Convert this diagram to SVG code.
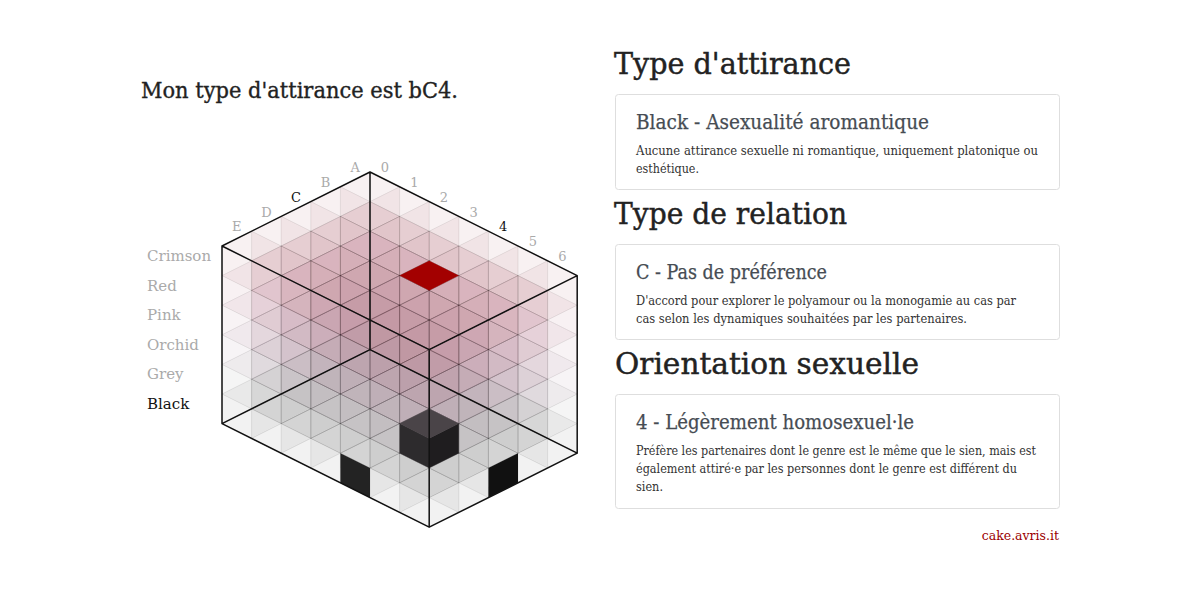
<svg xmlns="http://www.w3.org/2000/svg" width="1200" height="600" viewBox="0 0 1200 600">
<style>
.t{font-family:"DejaVu Serif","Liberation Serif",serif}
.h{font-size:30px;fill:#222;stroke:#222;stroke-width:0.45}
.ct{font-size:20px;fill:#464c53;stroke:#464c53;stroke-width:0.25}
.cd{font-size:12.5px;fill:#333}
.card{fill:#fff;stroke:#dedede;stroke-width:1}
.ax{font-size:13px;fill:#aaa;text-anchor:middle}
.rl{font-size:15px;fill:#aaa}
.sel{fill:#111}
.hx{fill-opacity:0.1;stroke:none}
.ln{fill:none;stroke:#000;stroke-opacity:0.08;stroke-width:0.6}
.edge{fill:none;stroke:#111;stroke-width:1.5;stroke-linejoin:round}
</style>
<defs>
<g id="vox"><polygon class="hx" points="0,0 29.6,14.8 29.6,44.4 0,59.2 -29.6,44.4 -29.6,14.8"/><path class="ln" d="M0,0L29.6,14.8V44.4L0,59.2L-29.6,44.4V14.8ZM0,0V59.2M29.6,14.8L-29.6,44.4M29.6,44.4L-29.6,14.8"/></g>
<g id="row"><use href="#vox"/><use href="#vox" x="29.6" y="14.8"/><use href="#vox" x="59.2" y="29.6"/><use href="#vox" x="88.8" y="44.4"/><use href="#vox" x="118.4" y="59.2"/><use href="#vox" x="148" y="74"/><use href="#vox" x="177.6" y="88.8"/></g>
<g id="layer"><use href="#row"/><use href="#row" x="-29.6" y="14.8"/><use href="#row" x="-59.2" y="29.6"/><use href="#row" x="-88.8" y="44.4"/><use href="#row" x="-118.4" y="59.2"/></g>
</defs>
<rect width="1200" height="600" fill="#fff"/>
<text id="header" class="t" x="141" y="97.5" font-size="22" fill="#222" stroke="#222" stroke-width="0.35" textLength="317" lengthAdjust="spacingAndGlyphs">Mon type d'attirance est bC4.</text>
<g id="cube">
<use href="#layer" x="370" y="320" fill="#808080"/>
<use href="#layer" x="370" y="290.4" fill="#9c9c9c"/>
<use href="#layer" x="370" y="260.8" fill="#ad93ab"/>
<use href="#layer" x="370" y="231.2" fill="#bf8e9a"/>
<use href="#layer" x="370" y="201.6" fill="#bb7a86"/>
<use href="#layer" x="370" y="172" fill="#b87684"/>
<g id="selected">
<polygon points="429.2,408.8 458.8,423.6 429.2,438.4 399.6,423.6" fill="#4a4448"/>
<polygon points="399.6,423.6 429.2,438.4 429.2,468 399.6,453.2" fill="#2d2b2d"/>
<polygon points="429.2,438.4 458.8,423.6 458.8,453.2 429.2,468" fill="#1f1d1f"/>
</g>
<polygon id="top-mark" points="429.2,260.8 458.8,275.6 429.2,290.4 399.6,275.6" fill="#a30000"/>
<polygon id="left-mark" points="340.4,453.2 370,468 370,497.6 340.4,482.8" fill="#232323"/>
<polygon id="right-mark" points="518,453.2 488.4,468 488.4,497.6 518,482.8" fill="#111"/>
<path class="edge" d="M370,172L222,246L429.2,349.6L577.2,275.6ZM222,246V423.6L429.2,527.2L577.2,453.2V275.6M429.2,349.6V527.2M370,172V349.6L222,423.6M370,349.6L577.2,453.2"/>
</g>
<g id="axis-letters" class="t">
<text class="ax" x="236.8" y="231.3">E</text>
<text class="ax" x="266.4" y="216.5">D</text>
<text class="ax sel" x="296" y="201.7">C</text>
<text class="ax" x="325.6" y="186.9">B</text>
<text class="ax" x="355.2" y="172.1">A</text>
</g>
<g id="axis-numbers" class="t">
<text class="ax" x="384.8" y="172.1">0</text>
<text class="ax" x="414.4" y="186.9">1</text>
<text class="ax" x="444" y="201.7">2</text>
<text class="ax" x="473.6" y="216.5">3</text>
<text class="ax sel" x="503.2" y="231.3">4</text>
<text class="ax" x="532.8" y="246.1">5</text>
<text class="ax" x="562.4" y="260.9">6</text>
</g>
<g id="axis-colors" class="t">
<text class="rl" x="147" y="261">Crimson</text>
<text class="rl" x="147" y="290.6">Red</text>
<text class="rl" x="147" y="320.2">Pink</text>
<text class="rl" x="147" y="349.8">Orchid</text>
<text class="rl" x="147" y="379.4">Grey</text>
<text class="rl sel" x="147" y="409">Black</text>
</g>
<g id="section-attirance" class="t">
<text class="h" x="614" y="73.5" textLength="237" lengthAdjust="spacingAndGlyphs">Type d'attirance</text>
<rect class="card" x="615.5" y="94.5" width="444" height="95" rx="3"/>
<text class="ct" x="636" y="128.5" textLength="293" lengthAdjust="spacingAndGlyphs">Black - Asexualité aromantique</text>
<text class="cd" x="636" y="154.5" textLength="402" lengthAdjust="spacingAndGlyphs">Aucune attirance sexuelle ni romantique, uniquement platonique ou</text>
<text class="cd" x="636" y="172.5" textLength="63" lengthAdjust="spacingAndGlyphs">esthétique.</text>
</g>
<g id="section-relation" class="t">
<text class="h" x="614" y="223.5" textLength="233" lengthAdjust="spacingAndGlyphs">Type de relation</text>
<rect class="card" x="615.5" y="244.5" width="444" height="95" rx="3"/>
<text class="ct" x="636" y="278.5" textLength="191" lengthAdjust="spacingAndGlyphs">C - Pas de préférence</text>
<text class="cd" x="636" y="304.5" textLength="380" lengthAdjust="spacingAndGlyphs">D'accord pour explorer le polyamour ou la monogamie au cas par</text>
<text class="cd" x="636" y="322.5" textLength="331" lengthAdjust="spacingAndGlyphs">cas selon les dynamiques souhaitées par les partenaires.</text>
</g>
<g id="section-orientation" class="t">
<text class="h" x="615" y="373.5" textLength="304" lengthAdjust="spacingAndGlyphs">Orientation sexuelle</text>
<rect class="card" x="615.5" y="394.5" width="444" height="114" rx="3"/>
<text class="ct" x="636" y="428.5" textLength="278" lengthAdjust="spacingAndGlyphs">4 - Légèrement homosexuel·le</text>
<text class="cd" x="636" y="454.5" textLength="400" lengthAdjust="spacingAndGlyphs">Préfère les partenaires dont le genre est le même que le sien, mais est</text>
<text class="cd" x="636" y="472.5" textLength="381" lengthAdjust="spacingAndGlyphs">également attiré·e par les personnes dont le genre est différent du</text>
<text class="cd" x="636" y="490.5" textLength="27" lengthAdjust="spacingAndGlyphs">sien.</text>
</g>
<text id="credit" class="t" x="1059" y="540" font-size="12.5" fill="#9b0000" text-anchor="end">cake.avris.it</text>
</svg>
